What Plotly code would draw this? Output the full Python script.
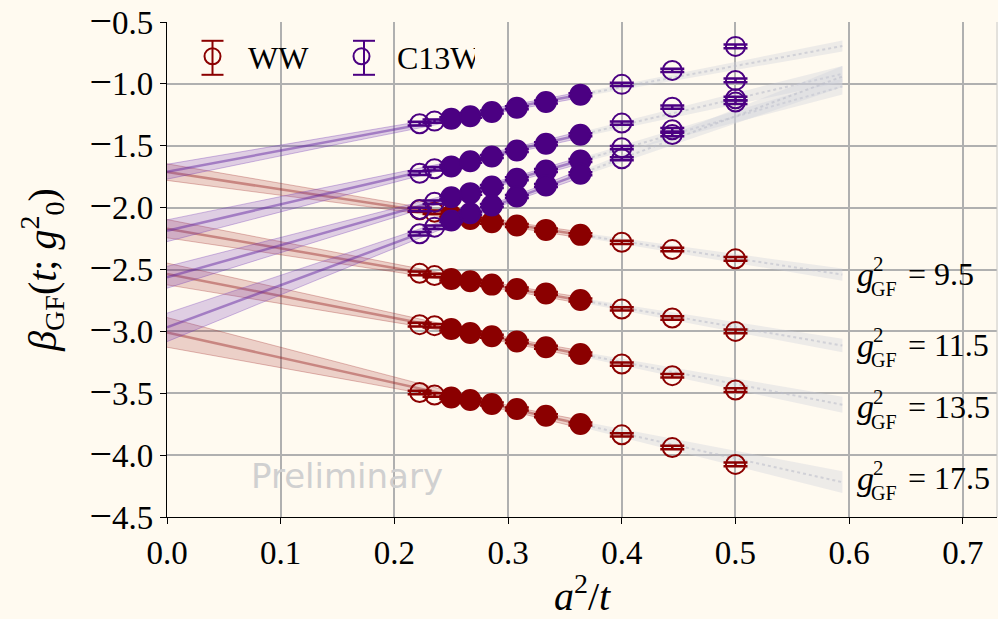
import numpy as np
import plotly.graph_objects as go

# ---------------- data ----------------
a2_over_t = [0.2222, 0.2353, 0.2500, 0.2667, 0.2857, 0.3077, 0.3333, 0.3636, 0.4000, 0.4444, 0.5000]
in_fit = [False, False, True, True, True, True, True, True, False, False, False]
g2_labels = ["9.5", "11.5", "13.5", "17.5"]

ww_95 = [-2.018, -2.037, -2.064, -2.091, -2.118, -2.145, -2.180, -2.220, -2.280, -2.339, -2.414]
ww_115 = [-2.531, -2.549, -2.576, -2.595, -2.622, -2.657, -2.693, -2.746, -2.819, -2.892, -3.000]
ww_135 = [-2.946, -2.954, -2.981, -3.013, -3.040, -3.081, -3.129, -3.183, -3.264, -3.358, -3.474]
ww_175 = [-3.494, -3.515, -3.534, -3.555, -3.587, -3.628, -3.682, -3.749, -3.836, -3.939, -4.075]

c13w_95 = [-1.322, -1.301, -1.282, -1.261, -1.228, -1.193, -1.147, -1.087, -1.004, -0.891, -0.697]
c13w_115 = [-1.722, -1.686, -1.667, -1.625, -1.587, -1.538, -1.484, -1.411, -1.317, -1.188, -0.972]
c13w_135 = [-2.015, -1.956, -1.916, -1.883, -1.829, -1.767, -1.700, -1.619, -1.516, -1.371, -1.120]
c13w_175 = [-2.211, -2.158, -2.104, -2.045, -1.983, -1.910, -1.821, -1.727, -1.605, -1.409, -1.147]

beta_err = [0.015, 0.014, 0.012, 0.012, 0.012, 0.012, 0.012, 0.012, 0.013, 0.014, 0.015]

# linear continuum fits (intercept, slope, half-width at a^2/t = 0)
ww_icpt = [-1.713, -2.170, -2.536, -3.008]
ww_slope = [-1.394, -1.590, -1.779, -2.038]
ww_err0 = [0.067, 0.074, 0.088, 0.120]
c13w_icpt = [-1.710, -2.187, -2.563, -2.968]
c13w_slope = [1.710, 2.134, 2.596, 3.413]
c13w_err0 = [0.060, 0.088, 0.088, 0.115]

fit_xmax = 0.3636
extrap_xmax = 0.594
err_min = 0.02
err_pivot = 0.30

x_ticks = [0.0, 0.1, 0.2, 0.3, 0.4, 0.5, 0.6, 0.7]
y_ticks = [-4.5, -4.0, -3.5, -3.0, -2.5, -2.0, -1.5, -1.0, -0.5]

# ---------------- styles ----------------
BG = "#fffaf0"
WW_C = "#8b0000"
C13_C = "#4b0082"
SERIF = "Liberation Serif"

L, R, T, B = 167, 1, 22, 102
W, H = 998, 619
PW, PH = W - L - R, H - T - B


def px2paper(px, py):
    return (px - L) / PW, (H - B - py) / PH


def sigma(xs, e0):
    return np.sqrt(err_min ** 2 + (e0 ** 2 - err_min ** 2) * ((xs - err_pivot) / err_pivot) ** 2)


fig = go.Figure()

groups = [
    ("WW", WW_C, "rgba(160,40,40,0.20)", "rgba(160,40,40,0.30)", "rgba(150,30,30,0.42)",
     [ww_95, ww_115, ww_135, ww_175], ww_icpt, ww_slope, ww_err0),
    ("C13W", C13_C, "rgba(110,50,180,0.22)", "rgba(110,50,180,0.32)", "rgba(95,35,160,0.47)",
     [c13w_95, c13w_115, c13w_135, c13w_175], c13w_icpt, c13w_slope, c13w_err0),
]

# extrapolation (gray) bands
for name, col, fillc, edgec, linec, series, icpt, slope, err0 in groups:
    for a, b, e0 in zip(icpt, slope, err0):
        xs = np.linspace(fit_xmax, extrap_xmax, 60)
        yc = a + b * xs
        s = sigma(xs, e0) * 0.75
        fig.add_trace(go.Scatter(
            x=np.concatenate([xs, xs[::-1]]), y=np.concatenate([yc + s, (yc - s)[::-1]]),
            fill="toself", fillcolor="rgba(205,208,218,0.36)", line=dict(width=0),
            mode="lines", hoverinfo="skip", showlegend=False))
        fig.add_trace(go.Scatter(
            x=xs, y=yc, mode="lines", line=dict(color="rgba(185,188,200,0.55)", width=2, dash="dot"),
            hoverinfo="skip", showlegend=False))

# fit bands
for name, col, fillc, edgec, linec, series, icpt, slope, err0 in groups:
    for a, b, e0 in zip(icpt, slope, err0):
        xs = np.linspace(0, fit_xmax, 80)
        yc = a + b * xs
        s = sigma(xs, e0)
        fig.add_trace(go.Scatter(
            x=np.concatenate([xs, xs[::-1]]), y=np.concatenate([yc + s, (yc - s)[::-1]]),
            fill="toself", fillcolor=fillc, line=dict(width=1, color=edgec),
            mode="lines", hoverinfo="skip", showlegend=False))
        fig.add_trace(go.Scatter(
            x=xs, y=yc, mode="lines", line=dict(color=linec, width=2.5),
            hoverinfo="skip", showlegend=False))

# data points
for name, col, fillc, edgec, linec, series, icpt, slope, err0 in groups:
    for k, ys in enumerate(series):
        for filled in (True, False):
            idx = [i for i, f in enumerate(in_fit) if f == filled]
            fig.add_trace(go.Scatter(
                x=[a2_over_t[i] for i in idx], y=[ys[i] for i in idx],
                mode="markers",
                name=name,
                legendgroup=name,
                showlegend=(k == 0 and not filled),
                marker=dict(symbol="circle" if filled else "circle-open", size=20 if filled else 19,
                            color=col, line=dict(width=2, color=col)),
                error_y=dict(type="data", array=[beta_err[i] for i in idx], color=col,
                             thickness=2.5, width=12),
            ))

# ---------------- annotations ----------------
ann = []
label_centers = [274, 345, 406.7, 478]
for lab, cy in zip(g2_labels, label_centers):
    gx, gy = px2paper(855, cy)
    ann.append(dict(x=gx, y=gy, xref="paper", yref="paper", xanchor="left", yanchor="middle",
                    text="<i>g</i>", showarrow=False, font=dict(family=SERIF, size=34, color="black")))
    sx, sy = px2paper(871, cy - 10)
    ann.append(dict(x=sx, y=sy, xref="paper", yref="paper", xanchor="left", yanchor="middle",
                    text="2", showarrow=False, font=dict(family=SERIF, size=21, color="black")))
    bx, by = px2paper(869, cy + 15)
    ann.append(dict(x=bx, y=by, xref="paper", yref="paper", xanchor="left", yanchor="middle",
                    text="GF", showarrow=False, font=dict(family=SERIF, size=20, color="black")))
    ex, ey = px2paper(906, cy)
    ann.append(dict(x=ex, y=ey, xref="paper", yref="paper", xanchor="left", yanchor="middle",
                    text="= " + lab, showarrow=False, font=dict(family=SERIF, size=32, color="black")))

px_, py_ = px2paper(347, 476)
ann.append(dict(x=px_, y=py_, xref="paper", yref="paper", xanchor="center", yanchor="middle",
                text="Preliminary", showarrow=False, font=dict(family="DejaVu Sans", size=34, color="#d0d0d0")))

# legend error-bar glyphs
shapes = []
for gxp, col in [(212.5, WW_C), (364, C13_C)]:
    ax, ay = px2paper(gxp, 57.8)
    shapes.append(dict(type="line", xref="paper", yref="paper", xsizemode="pixel", ysizemode="pixel",
                       xanchor=ax, yanchor=ay, x0=0, x1=0, y0=-17, y1=17, line=dict(color=col, width=2)))
    for dy in (-17, 17):
        shapes.append(dict(type="line", xref="paper", yref="paper", xsizemode="pixel", ysizemode="pixel",
                           xanchor=ax, yanchor=ay, x0=-11, x1=11, y0=dy, y1=dy, line=dict(color=col, width=2)))
# right frame edge
shapes.append(dict(type="line", xref="paper", yref="paper", x0=1, x1=1, y0=0, y1=1,
                   line=dict(color="#c8c8c8", width=1)))

y_ticktext = [("<span style='font-size:40px'>\u2212</span>" if v < 0 else "") + f"{abs(v):.1f}"
              for v in y_ticks]

lx, ly = px2paper(177, 29)
fig.update_layout(
    width=W, height=H,
    margin=dict(l=L, r=R, t=T, b=B, autoexpand=False),
    paper_bgcolor=BG, plot_bgcolor=BG,
    font=dict(family=SERIF, color="black"),
    showlegend=True,
    legend=dict(x=lx, y=ly, xanchor="left", yanchor="top", orientation="h",
                font=dict(family=SERIF, size=32, color="black"), bgcolor="rgba(0,0,0,0)",
                itemwidth=61, entrywidth=73, entrywidthmode="pixels"),
    xaxis=dict(range=[0, 0.73], tickvals=x_ticks, ticktext=[f"{v:.1f}" for v in x_ticks],
               automargin=False,
               showgrid=True, gridcolor="#b0b0b0", gridwidth=1.5,
               showline=True, linecolor="black", linewidth=1.2, mirror=False,
               ticks="outside", ticklen=6, tickcolor="black", zeroline=False,
               ticklabeloverflow="allow",
               tickfont=dict(family=SERIF, size=33, color="black"),
               title=dict(text="<i>a</i><sup>2</sup>/<i>t</i>", font=dict(family=SERIF, size=40), standoff=10)),
    yaxis=dict(range=[-4.5, -0.5], tickvals=y_ticks, ticktext=y_ticktext,
               automargin=False,
               showgrid=True, gridcolor="#b0b0b0", gridwidth=1.5,
               showline=True, linecolor="black", linewidth=1.2, mirror=False,
               ticks="outside", ticklen=6, tickcolor="black", zeroline=False,
               ticklabeloverflow="allow",
               tickfont=dict(family=SERIF, size=33, color="black"),
               title=dict(text="<i>β</i><sub>GF</sub>(<i>t</i>; <i>g</i><sup>2</sup><sub>0</sub>)",
                          font=dict(family=SERIF, size=40), standoff=20)),
    annotations=ann,
    shapes=shapes,
)

fig.write_html("out.html")
